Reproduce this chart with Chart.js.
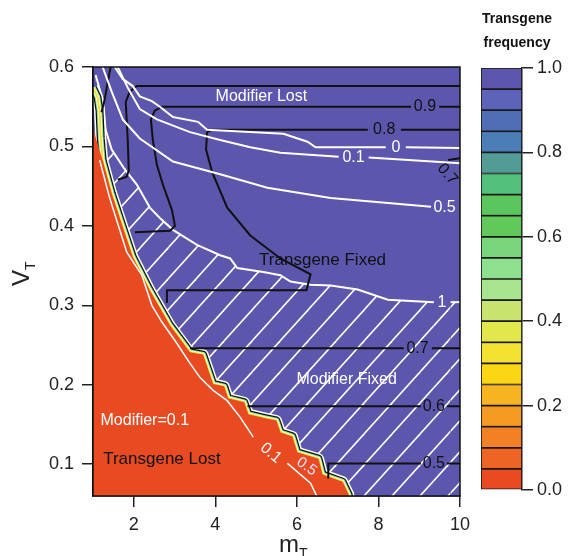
<!DOCTYPE html>
<html lang="en">
<head>
<meta charset="UTF-8">
<title>Transgene frequency</title>
<style>
  body { margin: 0; background: #fff; }
  #wrap { position: relative; width: 570px; height: 556px; }
  #main { position: absolute; left: 0; top: 0; }
  #bar { position: absolute; left: 467px; top: 0; }
</style>
</head>
<body>
<div id="wrap">
  <canvas id="main" width="570" height="556"></canvas>
  <canvas id="bar" width="100" height="556"></canvas>
</div>
<script src="https://cdn.jsdelivr.net/npm/chart.js"></script>
<script>
const FAM = '"Liberation Sans", Arial, sans-serif';
Chart.defaults.font.family = FAM;

// axes
const mTicks = [2, 4, 6, 8, 10];
const vTicks = [0.1, 0.2, 0.3, 0.4, 0.5, 0.6];
const barTicks = [0, 0.2, 0.4, 0.6, 0.8, 1.0];

// colour scale (transgene frequency, bottom to top)
const freqLevels = [0, 0.05, 0.1, 0.15, 0.2, 0.25, 0.3, 0.35, 0.4, 0.45, 0.5,
                    0.55, 0.6, 0.65, 0.7, 0.75, 0.8, 0.85, 0.9, 0.95, 1.0];
const freqColors = ['#e84b22', '#ee6424', '#f28125', '#f59a23', '#f8b420',
                    '#fcd513', '#f4e02f', '#e2e84b', '#c8e46e', '#a8e48e',
                    '#8de08e', '#78d57b', '#63c85a', '#5ac65b', '#52c27a',
                    '#539c96', '#4b7eb6', '#4f6eb5', '#5d63b8', '#5d56ad'];

// boundary of the "transgene lost" region [mT, VT]
const edgeTop = [[1.0, 0.574], [1.11, 0.562], [1.16, 0.545], [1.19, 0.51]];
const edgeLow = [[1.0, 0.525], [1.064, 0.511]];
const edge = [[1.236, 0.483], [1.458, 0.441], [1.729, 0.399], [1.975, 0.361],
              [2.394, 0.319], [2.887, 0.275], [3.379, 0.241], [3.70, 0.238],
              [3.80, 0.223], [3.946, 0.201], [4.217, 0.198], [4.315, 0.183],
              [4.71, 0.178], [4.81, 0.163], [5.227, 0.158], [5.498, 0.155],
              [5.60, 0.140], [5.89, 0.135], [6.01, 0.115], [6.53, 0.107],
              [6.63, 0.087], [7.12, 0.078], [7.27, 0.062], [7.3, 0.05]];

// modifier contours (white)
const modOne = [[1.064, 0.59], [1.236, 0.559], [1.31, 0.521], [1.458, 0.496],
                [1.754, 0.473], [2.074, 0.452], [2.394, 0.423], [2.64, 0.410],
                [2.96, 0.395], [3.55, 0.376], [4.118, 0.363], [4.365, 0.359],
                [4.537, 0.347], [5.177, 0.342], [5.596, 0.338], [5.842, 0.330],
                [6.335, 0.326], [6.828, 0.325], [7.49, 0.320], [8.23, 0.307],
                [9.36, 0.304], [9.77, 0.304], [10, 0.304]];
const oneGap = [9.36, 9.77];
const modZero = [[1.532, 0.6], [1.729, 0.585], [1.975, 0.576], [2.148, 0.563],
                 [2.443, 0.557], [2.64, 0.550], [2.961, 0.537], [3.576, 0.531],
                 [3.798, 0.521], [5.67, 0.516], [6.26, 0.506], [6.458, 0.499],
                 [8.18, 0.499], null, [8.67, 0.499], [10, 0.498]];
const modTenth = [[1.606, 0.6], [1.852, 0.574], [2.148, 0.547], [2.567, 0.534],
                  [3.379, 0.518], [4.118, 0.508], [4.857, 0.499], [5.596, 0.492],
                  [7.025, 0.487], null, [7.76, 0.486], [10, 0.479]];
const modHalf = [[1.236, 0.6], [1.458, 0.569], [1.729, 0.534], [2.148, 0.510],
                 [2.961, 0.481], [4.118, 0.465], [5.276, 0.448], [6.828, 0.435],
                 [9.29, 0.424]];
const modTenthLost = [[1.163, 0.483], [1.409, 0.435], [1.828, 0.367], [2.197, 0.338],
                      [2.443, 0.300], [2.69, 0.279], [3.059, 0.252], [3.379, 0.227],
                      [3.626, 0.209], [3.946, 0.193], [4.291, 0.180], [4.611, 0.159],
                      [4.931, 0.134], null, [5.768, 0.101], [6.335, 0.076], [6.58, 0.05]];

// transgene frequency contours (black)
const tfTop = [[1.433, 0.6], [1.36, 0.581], [1.286, 0.559], [1.21, 0.543]];
const tf95 = [[1.608, 0.458], [1.828, 0.462], [1.877, 0.470], [1.852, 0.508],
              [1.803, 0.556], [1.901, 0.569], [2.074, 0.576], [10, 0.576]];
const tf90 = [[2.027, 0.392], [2.887, 0.394], [3.01, 0.400], [2.936, 0.420],
              [2.714, 0.452], [2.567, 0.477], [2.468, 0.508], [2.419, 0.534],
              [2.517, 0.545], [2.69, 0.550], [8.80, 0.550], null, [9.49, 0.550], [10, 0.550]];
const tf80 = [[2.813, 0.303], [2.813, 0.319], [6.236, 0.319], [6.335, 0.339],
              [5.596, 0.359], [4.857, 0.388], [4.291, 0.423], [3.92, 0.468],
              [3.773, 0.496], [3.798, 0.518], [3.92, 0.521], [7.74, 0.521], null,
              [8.55, 0.521], [10, 0.521]];
const tf70 = [[3.379, 0.246], [8.62, 0.246], null, [9.31, 0.246], [10, 0.246]];
const tf70b = [[9.71, 0.483], [10, 0.485]];
const tf60 = [[4.79, 0.173], [9.04, 0.173], null, [9.68, 0.173], [10, 0.173]];
const tf50 = [[6.77, 0.082], [6.77, 0.101], [9.04, 0.101], null, [9.68, 0.101], [10, 0.101]];

// text placed on the plot
const notes = [
  { text: 'Modifier Lost', m: 5.13, v: 0.5625, color: '#fff', size: 16 },
  { text: 'Transgene Fixed', m: 6.63, v: 0.357, color: '#111', size: 17 },
  { text: 'Modifier Fixed', m: 7.22, v: 0.206, color: '#fff', size: 16 },
  { text: 'Modifier=0.1', m: 2.27, v: 0.155, color: '#fff', size: 16 },
  { text: 'Transgene Lost', m: 2.69, v: 0.106, color: '#111', size: 17 },
  { text: '0', m: 8.43, v: 0.499, color: '#fff', size: 16 },
  { text: '0.1', m: 7.39, v: 0.486, color: '#fff', size: 16 },
  { text: '0.5', m: 9.62, v: 0.423, color: '#fff', size: 16 },
  { text: '1', m: 9.56, v: 0.304, color: '#fff', size: 16 },
  { text: '0.9', m: 9.14, v: 0.55, color: '#111', size: 16 },
  { text: '0.8', m: 8.14, v: 0.521, color: '#111', size: 16 },
  { text: '0.7', m: 8.96, v: 0.246, color: '#111', size: 16 },
  { text: '0.6', m: 9.36, v: 0.173, color: '#111', size: 16 },
  { text: '0.5', m: 9.36, v: 0.101, color: '#111', size: 16 },
  { text: '0.7', m: 9.69, v: 0.465, color: '#111', size: 16, rot: 50 },
  { text: '0.1', m: 5.36, v: 0.114, color: '#fff', size: 16, rot: 40 },
  { text: '0.5', m: 6.24, v: 0.097, color: '#dfe4ff', size: 15, rot: 35 }
];

const orange = freqColors[0];
const blue = freqColors[freqColors.length - 1];

function makeHatch(ctx) {
  const w = 28, h = 31;
  const tile = document.createElement('canvas');
  tile.width = w; tile.height = h;
  const g = tile.getContext('2d');
  g.strokeStyle = '#fff';
  g.lineWidth = 1.6;
  for (const k of [-1, 0, 1]) {
    g.beginPath();
    g.moveTo(k * w - w * 0.5, h * 1.5);
    g.lineTo(k * w + w * 1.5, -h * 0.5);
    g.stroke();
  }
  return ctx.createPattern(tile, 'repeat');
}

const P = arr => arr.map(p => p ? { x: p[0], y: p[1] } : { x: null, y: null });
function line(data, color, width, order, more) {
  return Object.assign({
    data: P(data), showLine: true, pointRadius: 0, pointHoverRadius: 0,
    tension: 0, fill: false, clip: 0, borderColor: color, borderWidth: width,
    order: order, borderJoinStyle: 'miter'
  }, more || {});
}

const plotBg = {
  id: 'plotBg',
  beforeDatasetsDraw(chart) {
    const { ctx, chartArea: a } = chart;
    ctx.save();
    ctx.fillStyle = blue;
    ctx.fillRect(a.left, a.top, a.right - a.left, a.bottom - a.top);
    ctx.restore();
  }
};

function drawSub(ctx, main, sub, x0, baseY, s1, s2) {
  ctx.textAlign = 'left';
  ctx.textBaseline = 'alphabetic';
  ctx.font = s1 + 'px ' + FAM;
  const w1 = ctx.measureText(main).width;
  ctx.fillText(main, x0, baseY);
  ctx.font = s2 + 'px ' + FAM;
  ctx.fillText(sub, x0 + w1, baseY + s2 * 0.4);
}

const overlay = {
  id: 'overlay',
  afterDatasetsDraw(chart) {
    const { ctx, chartArea: a, scales: { x, y } } = chart;
    ctx.save();
    notes.forEach(n => {
      ctx.save();
      ctx.translate(x.getPixelForValue(n.m), y.getPixelForValue(n.v));
      if (n.rot) ctx.rotate(n.rot * Math.PI / 180);
      ctx.font = n.size + 'px ' + FAM;
      ctx.fillStyle = n.color;
      ctx.textAlign = 'center';
      ctx.textBaseline = 'middle';
      ctx.fillText(n.text, 0, 0);
      ctx.restore();
    });
    ctx.strokeStyle = '#111';
    ctx.lineWidth = 1.5;
    ctx.strokeRect(a.left, a.top, a.right - a.left, a.bottom - a.top);
    ctx.restore();
  },
  afterDraw(chart) {
    const ctx = chart.ctx;
    ctx.save();
    ctx.fillStyle = '#222';
    drawSub(ctx, 'm', 'T', 279, 552, 24, 14);
    ctx.translate(29, 286);
    ctx.rotate(-Math.PI / 2);
    drawSub(ctx, 'V', 'T', 0, 0, 24, 14);
    ctx.restore();
  }
};

const mainCtx = document.getElementById('main').getContext('2d');
const hatch = makeHatch(mainCtx);
const strip = edgeTop.concat(edge);
const round = { borderJoinStyle: 'round' };

new Chart(mainCtx, {
  type: 'scatter',
  data: {
    datasets: [
      line(modOne, '#fff', 2, 30, {
        fill: 'start', backgroundColor: hatch,
        segment: {
          borderColor: c => (c.p0.parsed.x >= oneGap[0] && c.p1.parsed.x <= oneGap[1]) ? 'rgba(0,0,0,0)' : '#fff'
        }
      }),
      line(strip, '#fff', 11, 29, round),
      line(strip, '#111', 8, 28, round),
      line(strip, freqColors[10], 5.5, 27, round),
      line(strip, '#fff', 3.5, 26, round),
      line(strip, freqColors[6], 2, 25, round),
      line(edgeLow.concat(edge), 'rgba(0,0,0,0)', 1, 24, { fill: 'start', backgroundColor: orange }),
      line(modTenthLost, '#fff', 1.5, 23),
      line(tfTop, '#111', 2, 20),
      line(tf95, '#111', 2, 20),
      line(tf90, '#111', 2, 20),
      line(tf80, '#111', 2, 20),
      line(tf70, '#111', 2, 20),
      line(tf70b, '#111', 2, 20),
      line(tf60, '#111', 2, 20),
      line(tf50, '#111', 2, 20),
      line(modZero, '#fff', 2, 10),
      line(modTenth, '#fff', 2, 10),
      line(modHalf, '#fff', 2, 10)
    ]
  },
  options: {
    responsive: false,
    animation: false,
    events: [],
    layout: { padding: { top: 67, right: 110, left: 0, bottom: 0 } },
    plugins: { legend: { display: false }, tooltip: { enabled: false } },
    scales: {
      x: {
        type: 'linear', min: 1, max: 10,
        afterBuildTicks: s => { s.ticks = mTicks.map(v => ({ value: v })); },
        afterFit: s => { s.height = 60; },
        ticks: { font: { size: 18 }, color: '#222', padding: 7, callback: v => String(v) },
        grid: { drawOnChartArea: false, tickLength: 11, color: '#222', lineWidth: 1.5 },
        border: { color: '#111', width: 1.5 }
      },
      y: {
        type: 'linear', min: 0.06, max: 0.6,
        afterBuildTicks: s => { s.ticks = vTicks.map(v => ({ value: v })); },
        afterFit: s => { s.width = 93; },
        ticks: { font: { size: 18 }, color: '#222', padding: 8, callback: v => v.toFixed(1) },
        grid: { drawOnChartArea: false, tickLength: 11, color: '#222', lineWidth: 1.5 },
        border: { color: '#111', width: 1.5 }
      }
    }
  },
  plugins: [plotBg, overlay]
});

// colour bar
const barTitle = {
  id: 'barTitle',
  afterDraw(chart) {
    const ctx = chart.ctx;
    ctx.save();
    ctx.font = 'bold 14px ' + FAM;
    ctx.fillStyle = '#111';
    ctx.textAlign = 'center';
    ctx.textBaseline = 'alphabetic';
    ctx.fillText('Transgene', chart.width / 2, 23);
    ctx.fillText('frequency', chart.width / 2, 47);
    ctx.restore();
  }
};

new Chart(document.getElementById('bar'), {
  type: 'bar',
  data: {
    labels: [''],
    datasets: freqColors.map((c, i) => ({
      data: [[freqLevels[i], freqLevels[i + 1]]],
      backgroundColor: c, borderColor: '#1a1a1a', borderWidth: 1.2,
      borderSkipped: false, grouped: false, barPercentage: 1, categoryPercentage: 1
    }))
  },
  options: {
    responsive: false,
    animation: false,
    events: [],
    layout: { padding: { top: 68, bottom: 66, left: 14, right: 0 } },
    plugins: { legend: { display: false }, tooltip: { enabled: false } },
    scales: {
      x: { display: false },
      y: {
        position: 'right', min: 0, max: 1,
        afterBuildTicks: s => { s.ticks = barTicks.map(v => ({ value: v })); },
        afterFit: s => { s.width = 45; },
        ticks: { font: { size: 18 }, color: '#222', padding: 4, callback: v => v.toFixed(1) },
        grid: { drawOnChartArea: false, tickLength: 11, color: '#222', lineWidth: 1.5 },
        border: { color: '#111', width: 1.5 }
      }
    }
  },
  plugins: [barTitle]
});
</script>
</body>
</html>
